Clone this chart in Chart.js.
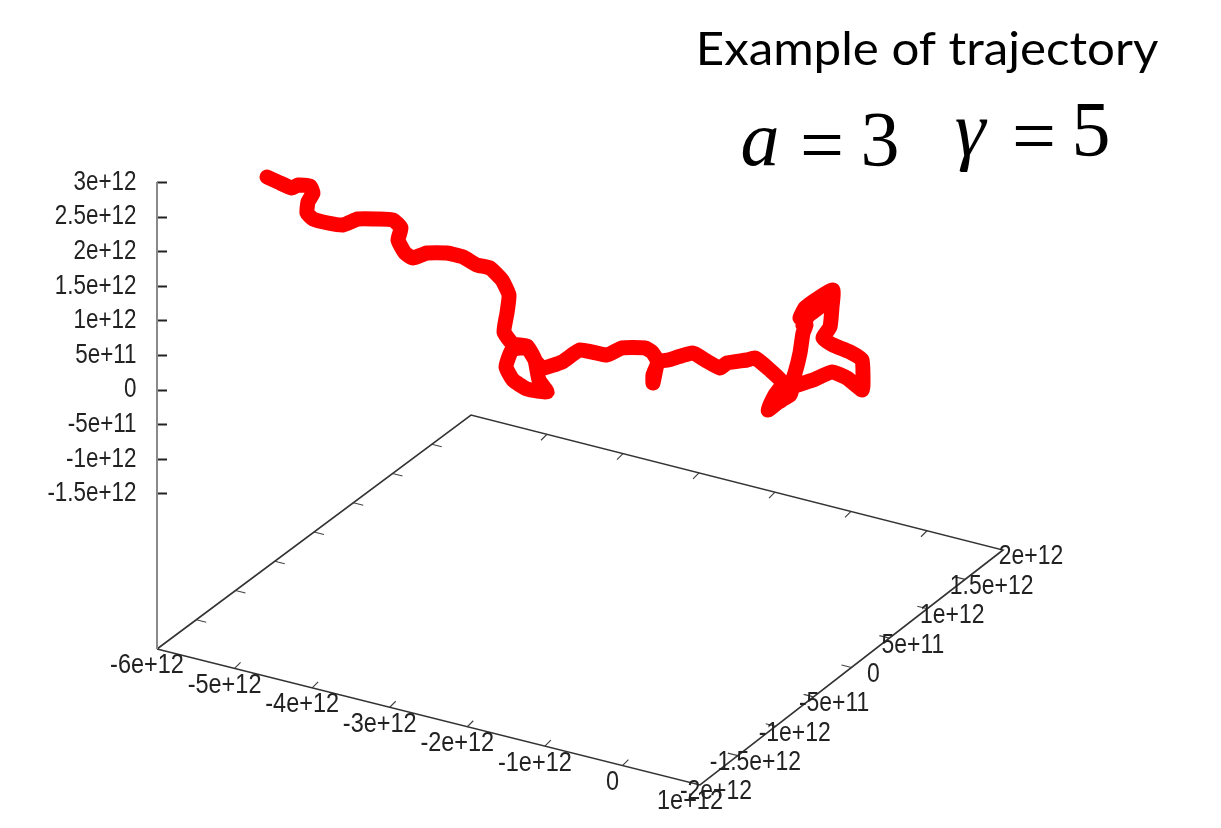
<!DOCTYPE html>
<html>
<head>
<meta charset="utf-8">
<title>Example of trajectory</title>
<style>
    html, body { margin: 0; padding: 0; background: #fff; }
    #wrap { width: 1221px; height: 828px; }
</style>
<script src="https://cdn.jsdelivr.net/npm/chart.js@4.4.0/dist/chart.umd.min.js"></script>
</head>
<body>
<div id="wrap"><canvas id="trajectoryChart" width="1221" height="828"></canvas></div>
<script>
// Tick values of the three axes
const zTicks = [3e12, 2.5e12, 2e12, 1.5e12, 1e12, 5e11, 0, -5e11, -1e12, -1.5e12];
const zTickLabels = ['3e+12', '2.5e+12', '2e+12', '1.5e+12', '1e+12', '5e+11', '0', '-5e+11', '-1e+12', '-1.5e+12'];
const xTicks = [-6e12, -5e12, -4e12, -3e12, -2e12, -1e12, 0, 1e12];
const xTickLabels = ['-6e+12', '-5e+12', '-4e+12', '-3e+12', '-2e+12', '-1e+12', '0', '1e+12'];
const yTicks = [-2e12, -1.5e12, -1e12, -5e11, 0, 5e11, 1e12, 1.5e12, 2e12];
const yTickLabels = ['-2e+12', '-1.5e+12', '-1e+12', '-5e+11', '0', '5e+11', '1e+12', '1.5e+12', '2e+12'];

// Trajectory as read from the projected view (horizontal, vertical)
const trajectoryH = [267, 278, 292, 298, 310, 313, 308, 307, 313, 328, 343, 358, 377, 393, 401, 398, 405, 413,
    427, 447, 463, 477, 490, 502, 509, 507, 504, 513, 527, 535, 539, 547, 527, 513, 506, 512, 527, 537, 543,
    562, 580, 607, 622, 645, 652, 658, 653, 653, 658, 668, 693, 705, 720, 727, 747, 755, 770, 783, 775, 768,
    778, 790, 782, 772, 790, 793, 813, 832, 847, 862, 863, 862, 850, 833, 823, 830, 832, 833, 820, 805, 800,
    812, 828, 822, 808, 803, 806, 803, 800, 795, 788];
const trajectoryV = [177, 182, 188, 185, 186, 193, 202, 213, 219, 223, 225, 219, 219, 220, 228, 240, 253, 258,
    253, 253, 257, 265, 268, 280, 295, 313, 332, 344, 346, 360, 380, 392, 389, 380, 367, 350, 348, 363, 368,
    362, 350, 355, 348, 348, 352, 362, 375, 383, 362, 360, 353, 360, 368, 363, 360, 358, 370, 383, 395, 410,
    402, 385, 400, 405, 395, 387, 380, 372, 378, 390, 385, 360, 352, 345, 338, 327, 307, 290, 297, 308, 318,
    305, 292, 305, 316, 325, 325, 333, 353, 373, 393];

// Corners of the base plane in the projected view
const cornerH = [157, 700, 1003, 471];
const cornerV = [649, 785, 550, 415];

const titleText = 'Example of trajectory';
const formulaParts = ['a', '=', '3', 'γ', '=', '5'];

const X_MIN = -6e12, X_MAX = 1e12, Y_MIN = -2e12, Y_MAX = 2e12;

// Bilinear map from base plane values to the projected view
function project(xv, yv) {
    const u = (xv - X_MIN) / (X_MAX - X_MIN);
    const v = (yv - Y_MIN) / (Y_MAX - Y_MIN);
    const mix = a => (1 - u) * (1 - v) * a[0] + u * (1 - v) * a[1] + u * v * a[2] + (1 - u) * v * a[3];
    return { x: mix(cornerH), y: mix(cornerV) };
}

// Small tick marks on the four plane edges, broken up with empty points
const planeTicks = [];
function addTick(p, dx, dy) {
    planeTicks.push({ x: p.x, y: p.y }, { x: p.x + dx, y: p.y + dy }, { x: null, y: null });
}
xTicks.slice(1, -1).forEach(v => {
    addTick(project(v, Y_MIN), 6, -6);
    addTick(project(v, Y_MAX), -6, 6);
});
yTicks.slice(1, -1).forEach(v => {
    addTick(project(X_MIN, v), 10, 2.5);
    addTick(project(X_MAX, v), -10, -2.5);
});

const framePoints = [0, 1, 2, 3, 0].map(i => ({ x: cornerH[i], y: cornerV[i] }));

// All text is drawn here so the gnuplot labels can be squeezed horizontally
const labelsPlugin = {
    id: 'labelsPlugin',
    afterDatasetsDraw(chart) {
        const ctx = chart.ctx;
        const sx = chart.scales.x, sy = chart.scales.sy, sz = chart.scales.y;
        const put = (text, x, y, font, align, squeeze) => {
            ctx.save();
            ctx.font = font;
            ctx.textAlign = align || 'center';
            ctx.translate(x, y);
            ctx.scale(squeeze || 1, 1);
            ctx.fillText(text, 0, 0);
            ctx.restore();
        };
        ctx.save();
        ctx.fillStyle = '#222';
        ctx.textBaseline = 'middle';
        const tickFont = '27px "Liberation Sans", sans-serif';
        zTicks.forEach((v, i) => {
            put(zTickLabels[i], 136.5, sz.getPixelForValue(v), tickFont, 'right', 0.83);
        });
        xTicks.forEach((v, i) => {
            const p = project(v, Y_MIN);
            put(xTickLabels[i], sx.getPixelForValue(p.x) - 10, sy.getPixelForValue(p.y) + 17, tickFont, 'center', 0.87);
        });
        yTicks.forEach((v, i) => {
            const p = project(X_MAX, v);
            put(yTickLabels[i], sx.getPixelForValue(p.x) + 22 + v * 3e-12, sy.getPixelForValue(p.y) + 7, tickFont, 'center', 0.85);
        });

        ctx.fillStyle = '#000';
        ctx.textBaseline = 'alphabetic';
        put(titleText, 927, 65, '46px Lato, "Open Sans", sans-serif', 'center', 1.07);
        const serif = '78px "Liberation Serif", serif';
        const serifItalic = 'italic ' + serif;
        put(formulaParts[0], 760, 165, serifItalic);
        put(formulaParts[1], 822, 171, serif);
        put(formulaParts[2], 880, 165, serif);
        put(formulaParts[3], 970, 155, serifItalic);
        put(formulaParts[4], 1034, 162, serif);
        put(formulaParts[5], 1091, 155, serif);
        ctx.restore();
    }
};

new Chart(document.getElementById('trajectoryChart'), {
    type: 'scatter',
    data: {
        datasets: [
            {
                label: 'z axis',
                yAxisID: 'sy',
                data: [{ x: cornerH[0], y: 182 }, { x: cornerH[0], y: cornerV[0] }],
                showLine: true,
                borderColor: '#8a8a8a',
                borderWidth: 2,
                pointRadius: 0,
                clip: false
            },
            {
                label: 'base plane',
                yAxisID: 'sy',
                data: framePoints,
                showLine: true,
                borderColor: '#333',
                borderWidth: 1.6,
                pointRadius: 0,
                clip: false
            },
            {
                label: 'plane ticks',
                yAxisID: 'sy',
                data: planeTicks,
                showLine: true,
                spanGaps: false,
                borderColor: '#444',
                borderWidth: 1.2,
                pointRadius: 0,
                clip: false
            },
            {
                label: 'trajectory',
                yAxisID: 'sy',
                data: trajectoryH.map((h, i) => ({ x: h, y: trajectoryV[i] })),
                showLine: true,
                borderColor: '#ff0000',
                borderWidth: 15,
                borderJoinStyle: 'round',
                borderCapStyle: 'round',
                pointRadius: 0,
                tension: 0.15,
                clip: false
            }
        ]
    },
    options: {
        responsive: false,
        animation: false,
        layout: { padding: 0 },
        plugins: {
            legend: { display: false },
            tooltip: { enabled: false }
        },
        scales: {
            x: { type: 'linear', min: 157, max: 1221, display: false },
            sy: { type: 'linear', min: 0, max: 828, reverse: true, display: false },
            y: {
                type: 'linear',
                position: 'left',
                min: -6.329e12,
                max: 5.636e12,
                afterBuildTicks: scale => { scale.ticks = zTicks.map(v => ({ value: v })); },
                afterFit: scale => { scale.width = 157; },
                border: { display: false },
                grid: {
                    drawOnChartArea: false,
                    drawTicks: true,
                    tickLength: -10,
                    tickWidth: 2,
                    tickColor: '#222'
                },
                ticks: { display: false }
            }
        }
    },
    plugins: [labelsPlugin]
});
</script>
</body>
</html>
